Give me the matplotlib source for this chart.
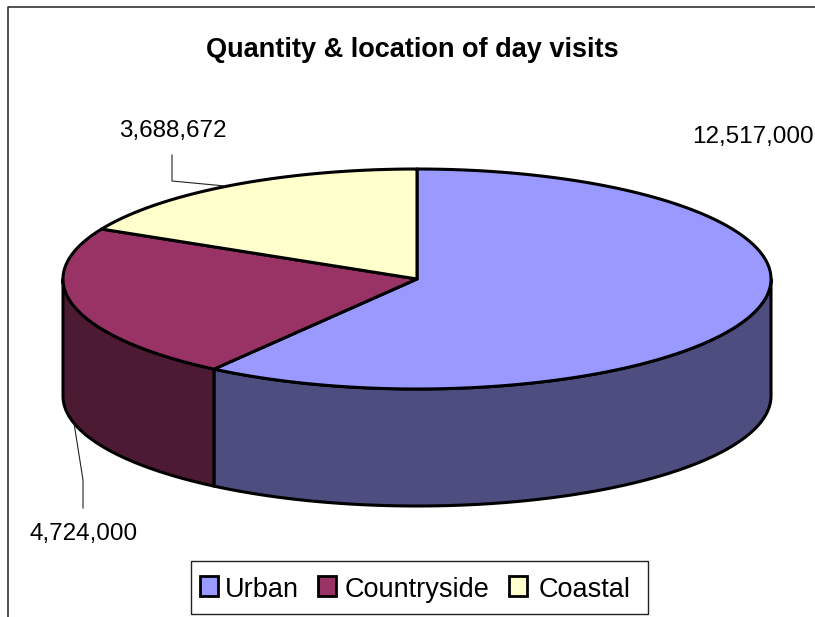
#!/usr/bin/env python3
"""Quantity & location of day visits: Excel style 3D pie drawn with polygons."""

import numpy as np
import matplotlib
matplotlib.use("Agg")
import matplotlib.pyplot as plt
from matplotlib.patches import Polygon, Rectangle

W, H = 815, 617

LABELS = ["Urban", "Countryside", "Coastal"]
VALUES = [12517000, 4724000, 3688672]
VALUE_TEXT = ["12,517,000", "4,724,000", "3,688,672"]
TOP_COLORS = ["#9999FF", "#993366", "#FFFFCC"]
SIDE_COLORS = ["#4D4D80", "#4D1A33", "#808066"]

# pie geometry in pixels
CX, CY = 417, 279
RX, RY = 354, 110
DEPTH = 117
EDGE = 2.2


def rim(a0, a1, dy=0):
    # angles are clockwise from 12 o'clock, in degrees
    t = np.radians(np.linspace(a0, a1, 200))
    return np.column_stack([CX + RX * np.sin(t), CY + dy - RY * np.cos(t)])


plt.rcParams["font.family"] = ["Liberation Sans", "DejaVu Sans"]
fig = plt.figure(figsize=(W / 100, H / 100), dpi=100)
ax = fig.add_axes([0, 0, 1, 1])
ax.set_xlim(0, W)
ax.set_ylim(H, 0)
ax.axis("off")

# chart frame, cut off by the picture on the right and at the bottom
ax.plot([7.5, 7.5, W], [H, 6.5, 6.5], color="#222222", lw=1.1)

# excel snaps slices to whole degrees
ends = np.round(np.cumsum(VALUES) / sum(VALUES) * 360)
starts = np.concatenate([[0], ends[:-1]])

# outer wall, only the front half of the rim can be seen
for a0, a1, c in zip(starts, ends, SIDE_COLORS):
    lo, hi = max(a0, 90), min(a1, 270)
    if lo >= hi:
        continue
    upper = rim(lo, hi)
    lower = rim(lo, hi, DEPTH)[::-1]
    ax.add_patch(Polygon(np.vstack([upper, lower]), closed=True, fc=c,
                         ec="black", lw=EDGE, joinstyle="round"))

# top face
for a0, a1, c in zip(starts, ends, TOP_COLORS):
    pts = np.vstack([[CX, CY], rim(a0, a1)])
    ax.add_patch(Polygon(pts, closed=True, fc=c, ec="black", lw=EDGE,
                         joinstyle="round"))

ax.text(412.5, 57, "Quantity & location of day visits", ha="center", va="baseline",
        fontsize=19.5, fontweight="bold")

# data labels and leader lines
ax.text(752.5, 143, VALUE_TEXT[0], ha="center", va="baseline", fontsize=17.5)
ax.text(84, 540, VALUE_TEXT[1], ha="center", va="baseline", fontsize=17.5)
ax.text(173, 137, VALUE_TEXT[2], ha="center", va="baseline", fontsize=17.5)
ax.plot([172, 172, 225], [155, 181, 186], color="#222222", lw=0.8)
ax.plot([74, 83, 83], [423, 480, 508], color="#222222", lw=0.8)

# legend
ax.add_patch(Rectangle((190.5, 560.5), 457, 53, fc="white", ec="#222222", lw=1))
for x, lab, col, tx in zip([200, 318, 509], LABELS, TOP_COLORS, [225, 345, 539]):
    ax.add_patch(Rectangle((x, 576), 18, 20, fc=col, ec="black", lw=2))
    ax.text(tx, 597, lab, ha="left", va="baseline", fontsize=19.5)

fig.savefig("out.png", dpi=100)
